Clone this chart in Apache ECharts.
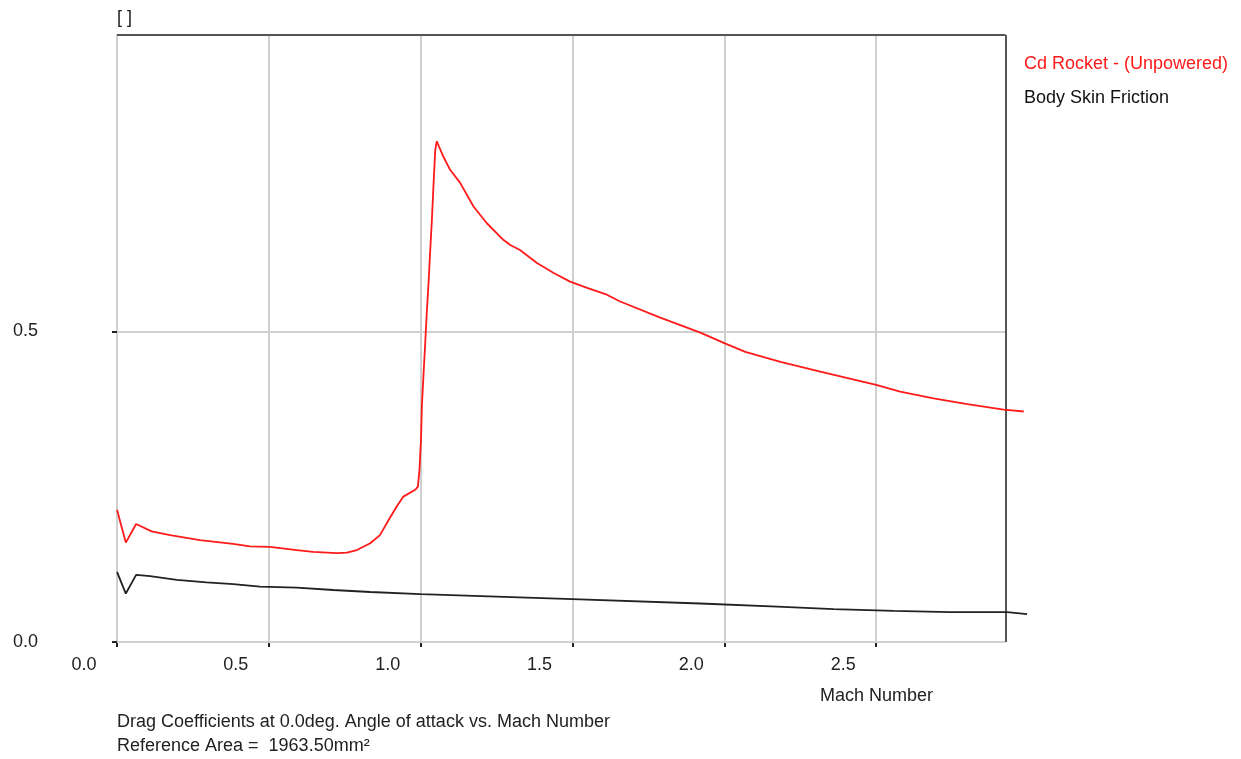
<!DOCTYPE html>
<html lang="en">
<head>
    <meta charset="UTF-8"/>
    <title>Drag Coefficients</title>
    <script src="https://cdn.jsdelivr.net/npm/echarts@6.0.0/dist/echarts.min.js"></script>
    <style>
        html, body { margin: 0; padding: 0; background: #fff; }
        #main { width: 1241px; height: 759px; }
    </style>
</head>
<body>
<div id="main"></div>
<script>
    // Cd Rocket - (Unpowered)
    var machRocket = [0, 0.029, 0.063, 0.114, 0.175, 0.273, 0.382, 0.438, 0.504, 0.592, 0.646, 0.724, 0.757, 0.79, 0.834,
        0.866, 0.894, 0.921, 0.943, 0.982, 0.991, 0.996, 1.001, 1.004, 1.009, 1.015, 1.02, 1.026, 1.031, 1.037, 1.042,
        1.048, 1.053, 1.075, 1.097, 1.13, 1.174, 1.218, 1.273, 1.295, 1.327, 1.383, 1.438, 1.492, 1.548, 1.613, 1.657,
        1.789, 1.921, 2.0, 2.069, 2.185, 2.316, 2.5, 2.579, 2.689, 2.8, 2.92, 2.986];
    var cdRocket = [0.213, 0.160, 0.190, 0.178, 0.172, 0.164, 0.158, 0.154, 0.153, 0.148, 0.145, 0.143, 0.144, 0.148, 0.159,
        0.172, 0.196, 0.218, 0.234, 0.245, 0.250, 0.277, 0.325, 0.379, 0.427, 0.481, 0.529, 0.578, 0.626, 0.680, 0.733,
        0.792, 0.806, 0.781, 0.760, 0.739, 0.701, 0.674, 0.647, 0.639, 0.631, 0.610, 0.594, 0.580, 0.570, 0.559, 0.548,
        0.522, 0.498, 0.481, 0.467, 0.451, 0.435, 0.414, 0.403, 0.392, 0.383, 0.374, 0.371];

    // Body Skin Friction
    var machSkin = [0, 0.029, 0.063, 0.109, 0.197, 0.295, 0.383, 0.471, 0.592, 0.712, 0.834, 1.0, 1.5, 1.921, 2.174,
        2.36, 2.558, 2.745, 2.931, 2.997];
    var cdSkin = [0.113, 0.078, 0.108, 0.106, 0.100, 0.096, 0.093, 0.089, 0.0875, 0.0837, 0.0805, 0.077, 0.069, 0.062,
        0.057, 0.053, 0.050, 0.048, 0.048, 0.045];

    var xTicks = [0, 0.5, 1.0, 1.5, 2.0, 2.5];
    var yTicks = [0, 0.5];

    // plot frame (the curves run a little past the right edge)
    var xFrame = 2.926;
    var yTop = 0.977;

    function pairs(xs, ys) {
        var out = [];
        for (var i = 0; i < xs.length; i++) {
            out.push([xs[i], ys[i]]);
        }
        return out;
    }

    // horizontal grid lines only up to the frame
    var gridLines = [];
    for (var i = 0; i < yTicks.length; i++) {
        gridLines.push([{ coord: [0, yTicks[i]] }, { coord: [xFrame, yTicks[i]] }]);
    }
    var frameLines = [
        [{ coord: [0, yTop] }, { coord: [xFrame, yTop] }],
        [{ coord: [xFrame, 0] }, { coord: [xFrame, yTop] }]
    ];

    var font = 'Liberation Sans';
    var myChart = echarts.init(document.getElementById('main'));

    myChart.setOption({
        animation: false,
        backgroundColor: '#fff',
        grid: { left: 117, top: 35, right: 213, bottom: 117 },
        legend: {
            orient: 'vertical',
            left: 1014,
            top: 50,
            icon: 'none',
            itemWidth: 0,
            itemGap: 16,
            selectedMode: false,
            textStyle: { fontFamily: font, fontSize: 18 },
            data: [
                { name: 'Cd Rocket - (Unpowered)', textStyle: { color: '#ff1a1a' } },
                { name: 'Body Skin Friction', textStyle: { color: '#111' } }
            ]
        },
        xAxis: {
            type: 'value',
            min: 0,
            max: 3.0,
            interval: 0.5,
            axisLine: { show: false },
            axisTick: { customValues: xTicks, length: 5, lineStyle: { color: '#222', width: 2 } },
            axisLabel: {
                customValues: xTicks,
                formatter: function (v) { return v.toFixed(1); },
                margin: 14,
                padding: [0, 66, 0, 0],
                color: '#222',
                fontFamily: font,
                fontSize: 18
            },
            splitLine: { lineStyle: { color: '#d0d0d0', width: 2 } }
        },
        yAxis: {
            type: 'value',
            min: 0,
            max: yTop,
            interval: 0.5,
            axisLine: { show: true, lineStyle: { color: '#d0d0d0', width: 2 } },
            axisTick: { show: true, customValues: yTicks, length: 5, lineStyle: { color: '#222', width: 2 } },
            axisLabel: {
                customValues: yTicks,
                formatter: function (v) { return v.toFixed(1); },
                margin: 79,
                padding: [0, 0, 13, 0],
                color: '#222',
                fontFamily: font,
                fontSize: 18
            },
            splitLine: { show: false }
        },
        series: [{
            name: 'grid',
            type: 'line',
            data: [],
            z: 1,
            silent: true,
            markLine: {
                silent: true,
                symbol: ['none', 'none'],
                label: { show: false },
                lineStyle: { type: 'solid', color: '#d0d0d0', width: 2 },
                data: gridLines
            }
        }, {
            name: 'Cd Rocket - (Unpowered)',
            type: 'line',
            clip: false,
            symbol: 'none',
            z: 5,
            lineStyle: { color: '#ff1a1a', width: 1.8 },
            itemStyle: { color: '#ff1a1a' },
            data: pairs(machRocket, cdRocket)
        }, {
            name: 'Body Skin Friction',
            type: 'line',
            clip: false,
            symbol: 'none',
            z: 5,
            lineStyle: { color: '#222', width: 1.8 },
            itemStyle: { color: '#222' },
            data: pairs(machSkin, cdSkin)
        }, {
            name: 'frame',
            type: 'line',
            data: [],
            z: 10,
            silent: true,
            markLine: {
                silent: true,
                symbol: ['none', 'none'],
                label: { show: false },
                lineStyle: { type: 'solid', color: '#555', width: 2 },
                data: frameLines
            }
        }],
        graphic: [
            { type: 'text', left: 117, top: 9, style: { text: '[ ]', fill: '#222', font: '18px ' + font } },
            { type: 'text', left: 820, top: 687, style: { text: 'Mach Number', fill: '#222', font: '18px ' + font } },
            { type: 'text', left: 117, top: 713, style: { text: 'Drag Coefficients at 0.0deg. Angle of attack vs. Mach Number', fill: '#222', font: '18px ' + font } },
            { type: 'text', left: 117, top: 737, style: { text: 'Reference Area =  1963.50mm\u00b2', fill: '#222', font: '18px ' + font } }
        ]
    });
</script>
</body>
</html>
